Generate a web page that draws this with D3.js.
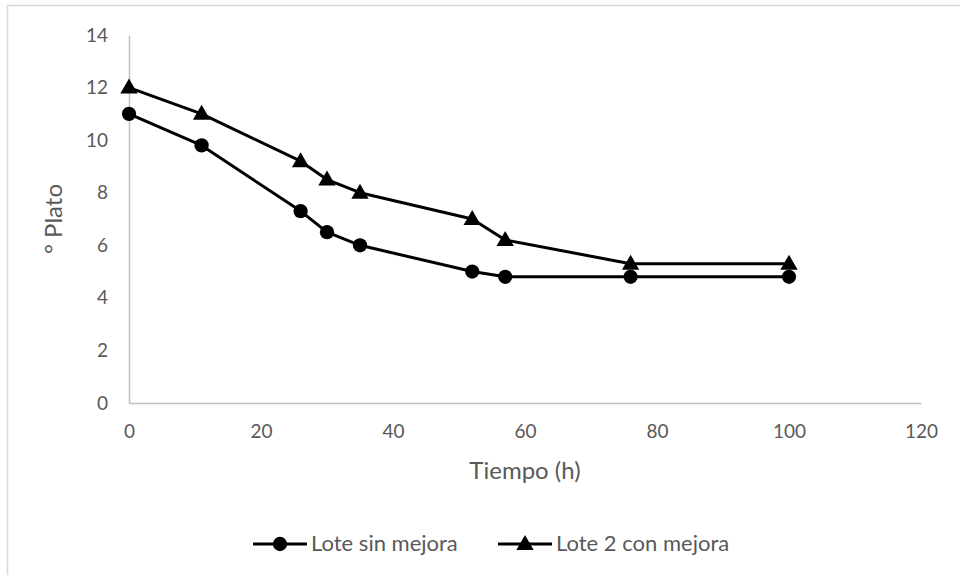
<!DOCTYPE html>
<html>
<head>
<meta charset="utf-8" />
<script src="https://d3js.org/d3.v7.min.js"></script>
<style>
  body { margin: 0; background: #fff; }
  text { font-family: Lato, "Open Sans", sans-serif; fill: #595959; }
</style>
</head>
<body>
<div id="chart"></div>
<script>
// data
var tiempo = [0, 11, 26, 30, 35, 52, 57, 76, 100];
var sinMejora = [11, 9.8, 7.3, 6.5, 6, 5, 4.8, 4.8, 4.8];
var conMejora = [12, 11, 9.2, 8.5, 8, 7, 6.2, 5.3, 5.3];
var seriesNames = ["Lote sin mejora", "Lote 2 con mejora"];
var xTicks = [0, 20, 40, 60, 80, 100, 120];
var yTicks = [0, 2, 4, 6, 8, 10, 12, 14];

var W = 960, H = 575;
var margin = {top: 35, right: 39, bottom: 172, left: 129},
    width = W - margin.left - margin.right,
    height = H - margin.top - margin.bottom;

var svg = d3.select("#chart").append("svg")
    .attr("width", W)
    .attr("height", H);

// outer frame (only top and left edges fall inside the picture)
svg.append("path")
    .attr("d", "M7.5," + H + "V5.5H" + W)
    .attr("fill", "none")
    .attr("stroke", "#d9d9d9")
    .attr("stroke-width", 1.5);

var g = svg.append("g")
    .attr("transform", "translate(" + margin.left + "," + margin.top + ")");

var x = d3.scaleLinear().domain([0, 120]).range([0, width]);
var y = d3.scaleLinear().domain([0, 14]).range([height, 0]);

// axes
var xAxis = g.append("g")
    .attr("transform", "translate(0," + height + ")")
    .call(d3.axisBottom(x).tickValues(xTicks).tickSize(0).tickPadding(22));
var yAxis = g.append("g")
    .call(d3.axisLeft(y).tickValues(yTicks).tickSize(0).tickPadding(21));

[xAxis, yAxis].forEach(function(a) {
  a.select(".domain").attr("stroke", "#bfbfbf").attr("stroke-width", 1.5);
  a.selectAll("text")
    .style("font-size", "19px")
    .style("font-family", "Lato, 'Open Sans', sans-serif")
    .attr("fill", "#595959");
});

// axis titles
g.append("text")
    .attr("x", x(60))
    .attr("y", height + 76)
    .attr("text-anchor", "middle")
    .style("font-size", "24px")
    .text("Tiempo (h)");

g.append("text")
    .attr("transform", "translate(" + (-67) + "," + y(7) + ") rotate(-90)")
    .attr("text-anchor", "middle")
    .style("font-size", "24px")
    .text("° Plato");

var line = d3.line()
    .x(function(d) { return x(d[0]); })
    .y(function(d) { return y(d[1]); });

var dataSin = tiempo.map(function(t, i) { return [t, sinMejora[i]]; });
var dataCon = tiempo.map(function(t, i) { return [t, conMejora[i]]; });

var circleSym = d3.symbol().type(d3.symbolCircle).size(160);
var triSym = d3.symbol().type(d3.symbolTriangle).size(130);

function drawSeries(data, sym, dy) {
  g.append("path")
    .datum(data)
    .attr("d", line)
    .attr("fill", "none")
    .attr("stroke", "#000")
    .attr("stroke-width", 3)
    .attr("stroke-linejoin", "round");
  g.selectAll(null)
    .data(data)
    .enter()
    .append("path")
      .attr("d", sym)
      .attr("transform", function(d) { return "translate(" + x(d[0]) + "," + (y(d[1]) + dy) + ")"; })
      .attr("fill", "#000");
}

drawSeries(dataSin, circleSym, 0);
drawSeries(dataCon, triSym, 1);

// legend
var legend = svg.append("g").attr("transform", "translate(0,544)");
var legendItems = [
  {name: seriesNames[0], x0: 253, sym: circleSym, dy: 0},
  {name: seriesNames[1], x0: 498, sym: triSym, dy: 1}
];
legendItems.forEach(function(it) {
  legend.append("line")
    .attr("x1", it.x0).attr("x2", it.x0 + 54)
    .attr("y1", 0).attr("y2", 0)
    .attr("stroke", "#000")
    .attr("stroke-width", 3);
  legend.append("path")
    .attr("d", it.sym)
    .attr("transform", "translate(" + (it.x0 + 27) + "," + it.dy + ")")
    .attr("fill", "#000");
  legend.append("text")
    .attr("x", it.x0 + 58)
    .attr("y", 7)
    .style("font-size", "22px")
    .text(it.name);
});
</script>
</body>
</html>
